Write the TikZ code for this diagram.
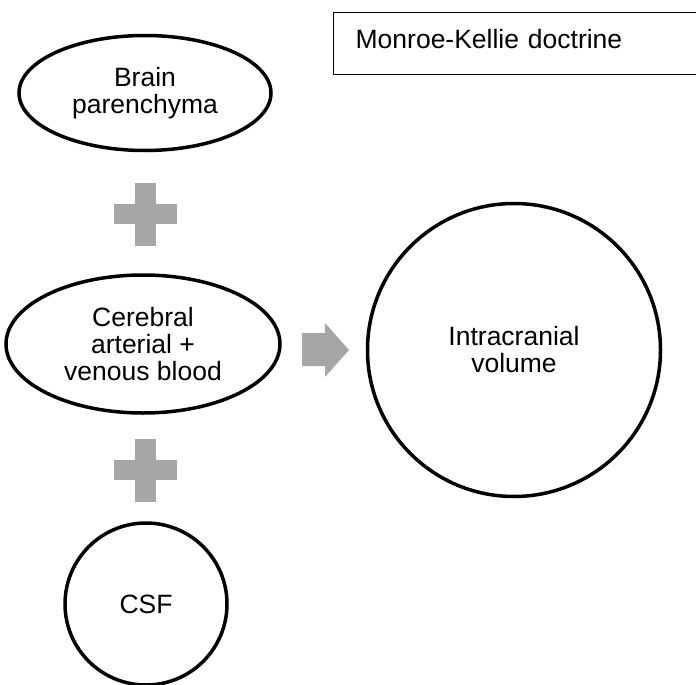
\documentclass[tikz,border=0pt]{standalone}
\usepackage{fontspec}
\setmainfont{Liberation Sans}
\usetikzlibrary{positioning,shapes.geometric,calc}
\definecolor{PlusGray}{HTML}{A6A6A6}

\begin{document}
\begin{tikzpicture}[x=1pt, y=-1pt, font=\fontsize{26.5}{27}\selectfont,
  blob/.style={draw=black, line width=3.5pt, ellipse, inner sep=0pt, align=center},
  ring/.style={draw=black, line width=3.5pt, circle, inner sep=0pt, align=center},
  plusbar/.style={fill=PlusGray, inner sep=0pt}]
\useasboundingbox (0,0) rectangle (696,685);
% title box, its right border runs off the page
\node[draw, line width=1.3pt, anchor=north west, minimum width=366pt, minimum height=62pt,
      text width=330pt, inner xsep=22pt, text height=18pt, text depth=8pt, align=left]
      (doctrine) at (333,12) {Monroe-Kellie doctrine};
% the three compartments
\node[blob, minimum width=252pt, minimum height=115pt] (brain) at (145,93) {Brain\\parenchyma};
\node[blob, minimum width=274pt, minimum height=138pt] (blood) at (143,344) {Cerebral\\arterial +\\venous blood};
\node[ring, minimum size=162pt] (csf) at (146,604) {CSF};
\node[ring, minimum size=293pt] (icv) at (514,350) {Intracranial\\volume};
% plus signs
\coordinate (plusA) at (145,214);
\coordinate (plusB) at (145,470);
\foreach \p in {plusA,plusB} {
  \node[plusbar, minimum width=63pt, minimum height=20pt] at (\p) {};
  \node[plusbar, minimum width=21pt, minimum height=63pt] at (\p) {};
}
% block arrow into the total volume
\fill[PlusGray] (302,333) -- (325,333) -- (325,323) -- (349,350) -- (325,377) -- (325,366) -- (302,366) -- cycle;
\end{tikzpicture}
\end{document}
